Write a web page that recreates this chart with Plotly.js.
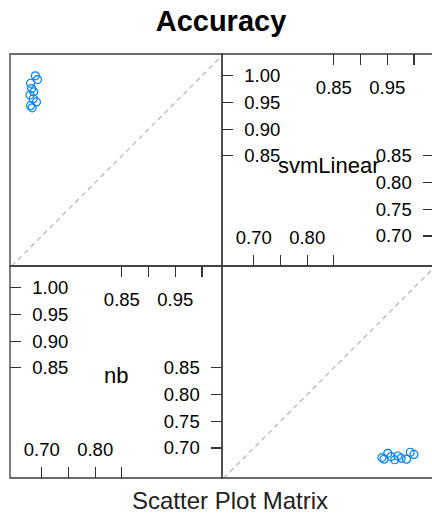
<!DOCTYPE html>
<html><head><meta charset="utf-8">
<script src="https://cdn.plot.ly/plotly-3.0.1.min.js"></script>
<style>html,body{margin:0;padding:0;overflow:hidden;background:#fff}</style>
</head><body><div id="chart" style="width:435px;height:515px"></div>
<script>
// ---- data ----
const varNames = ['svmLinear', 'nb'];
const svmLinear = [0.940, 0.944, 0.951, 0.957, 0.964, 0.970, 0.976, 0.986, 0.993, 1.000];
const nb        = [0.682, 0.679, 0.690, 0.684, 0.678, 0.685, 0.681, 0.679, 0.692, 0.688];
const upperTicks = [0.85, 0.90, 0.95, 1.00];
const upperSideLabels = ['0.85', '0.90', '0.95', '1.00'];
const upperEdgeLabels = ['0.85', '', '0.95', ''];
const lowerTicks = [0.70, 0.75, 0.80, 0.85];
const lowerSideLabels = ['0.70', '0.75', '0.80', '0.85'];
const lowerEdgeLabels = ['0.70', '', '0.80', ''];
const identity = [0, 2];
const chartTitle = 'Accuracy';
const xLabel = 'Scatter Plot Matrix';

// ---- styles ----
const FONT = 'Liberation Sans, Arial, sans-serif';
const xr = [0.6405, 1.0375];
const yr = [0.6438, 1.0408];
const colL = [0, 0.5], colR = [0.5, 1];
const rowT = [0.5, 1], rowB = [0, 0.5];
const blue = '#0080ff';
const standoff = {left: 12, right: 12, top: 17, bottom: 8};

function bare(domain, range, anchor) {
  return {domain, range, anchor, showticklabels: false, ticks: '', showgrid: false,
          zeroline: false, showline: false, fixedrange: true};
}
function tickAx(domain, range, anchor, side, vals, text) {
  return {domain, range, anchor, side, tickmode: 'array', tickvals: vals, ticktext: text,
          ticks: 'inside', ticklen: 11, tickwidth: 1.2, tickcolor: '#333',
          ticklabelposition: 'inside', ticklabelstandoff: standoff[side],
          tickfont: {family: FONT, size: 18.5, color: '#000'},
          showgrid: false, zeroline: false, showline: false, fixedrange: true};
}

const pts = (x, y, xa, ya) => ({type: 'scatter', mode: 'markers', x, y, xaxis: xa, yaxis: ya,
  marker: {symbol: 'circle-open', size: 8, color: blue, line: {width: 1.2, color: blue}},
  hoverinfo: 'skip', showlegend: false});
const diag = (xa, ya) => ({type: 'scatter', mode: 'lines', x: identity, y: identity, xaxis: xa, yaxis: ya,
  line: {color: '#b4b4b4', width: 1.2, dash: '5px,4px'}, hoverinfo: 'skip', showlegend: false});
const dummy = (xa, ya) => ({type: 'scatter', mode: 'markers', x: [], y: [], xaxis: xa, yaxis: ya,
  showlegend: false, hoverinfo: 'skip'});

const data = [
  diag('x', 'y'), diag('x2', 'y2'),
  pts(nb, svmLinear, 'x', 'y'),
  pts(svmLinear, nb, 'x2', 'y2'),
  dummy('x2', 'y3'), dummy('x2', 'y4'), dummy('x3', 'y'), dummy('x4', 'y'),
  dummy('x', 'y5'), dummy('x', 'y6'), dummy('x5', 'y2'), dummy('x6', 'y2')
];

const frame = (xref, yref) => ({type: 'rect', xref, yref, x0: 0, x1: 1, y0: 0, y1: 1,
  line: {color: '#3a3a3a', width: 1.3}, fillcolor: 'rgba(0,0,0,0)'});

const layout = {
  width: 435, height: 515,
  margin: {l: 10, r: 1, t: 54, b: 37},
  paper_bgcolor: '#fff', plot_bgcolor: 'rgba(0,0,0,0)',
  font: {family: FONT, color: '#000'},
  showlegend: false,
  title: {text: '<b>' + chartTitle + '</b>', font: {family: FONT, size: 29, color: '#000'},
          xref: 'container', x: 221 / 435, xanchor: 'center',
          yref: 'container', y: 1 - 21 / 515, yanchor: 'middle'},
  xaxis: bare(colL, xr, 'y2'),
  xaxis2: bare(colR, xr, 'y2'),
  yaxis: bare(rowT, yr, 'x'),
  yaxis2: bare(rowB, yr, 'x'),
  // diagonal panel: svmLinear (top-right)
  yaxis3: tickAx(rowT, yr, 'x2', 'left', upperTicks, upperSideLabels),
  yaxis4: tickAx(rowT, yr, 'x2', 'right', lowerTicks, lowerSideLabels),
  xaxis3: tickAx(colR, xr, 'y', 'top', upperTicks, upperEdgeLabels),
  xaxis4: tickAx(colR, xr, 'y', 'bottom', lowerTicks, lowerEdgeLabels),
  // diagonal panel: nb (bottom-left)
  yaxis5: tickAx(rowB, yr, 'x', 'left', upperTicks, upperSideLabels),
  yaxis6: tickAx(rowB, yr, 'x', 'right', lowerTicks, lowerSideLabels),
  xaxis5: tickAx(colL, xr, 'y2', 'top', upperTicks, upperEdgeLabels),
  xaxis6: tickAx(colL, xr, 'y2', 'bottom', lowerTicks, lowerEdgeLabels),
  shapes: [frame('x domain', 'y domain'), frame('x2 domain', 'y domain'),
           frame('x domain', 'y2 domain'), frame('x2 domain', 'y2 domain')],
  annotations: [
    {text: varNames[0], xref: 'x2 domain', yref: 'y domain', x: 0.5, y: 0.5, yshift: -5, showarrow: false,
     font: {family: FONT, size: 22, color: '#000'}},
    {text: varNames[1], xref: 'x domain', yref: 'y2 domain', x: 0.5, y: 0.5, yshift: -3, showarrow: false,
     font: {family: FONT, size: 22, color: '#000'}},
    {text: xLabel, xref: 'paper', yref: 'paper', x: (230.5 - 10) / 424, y: -22 / 424,
     xanchor: 'center', yanchor: 'middle', showarrow: false,
     font: {family: FONT, size: 24, color: '#222'}}
  ]
};

Plotly.newPlot('chart', data, layout, {displayModeBar: false, staticPlot: true});
</script></body></html>
